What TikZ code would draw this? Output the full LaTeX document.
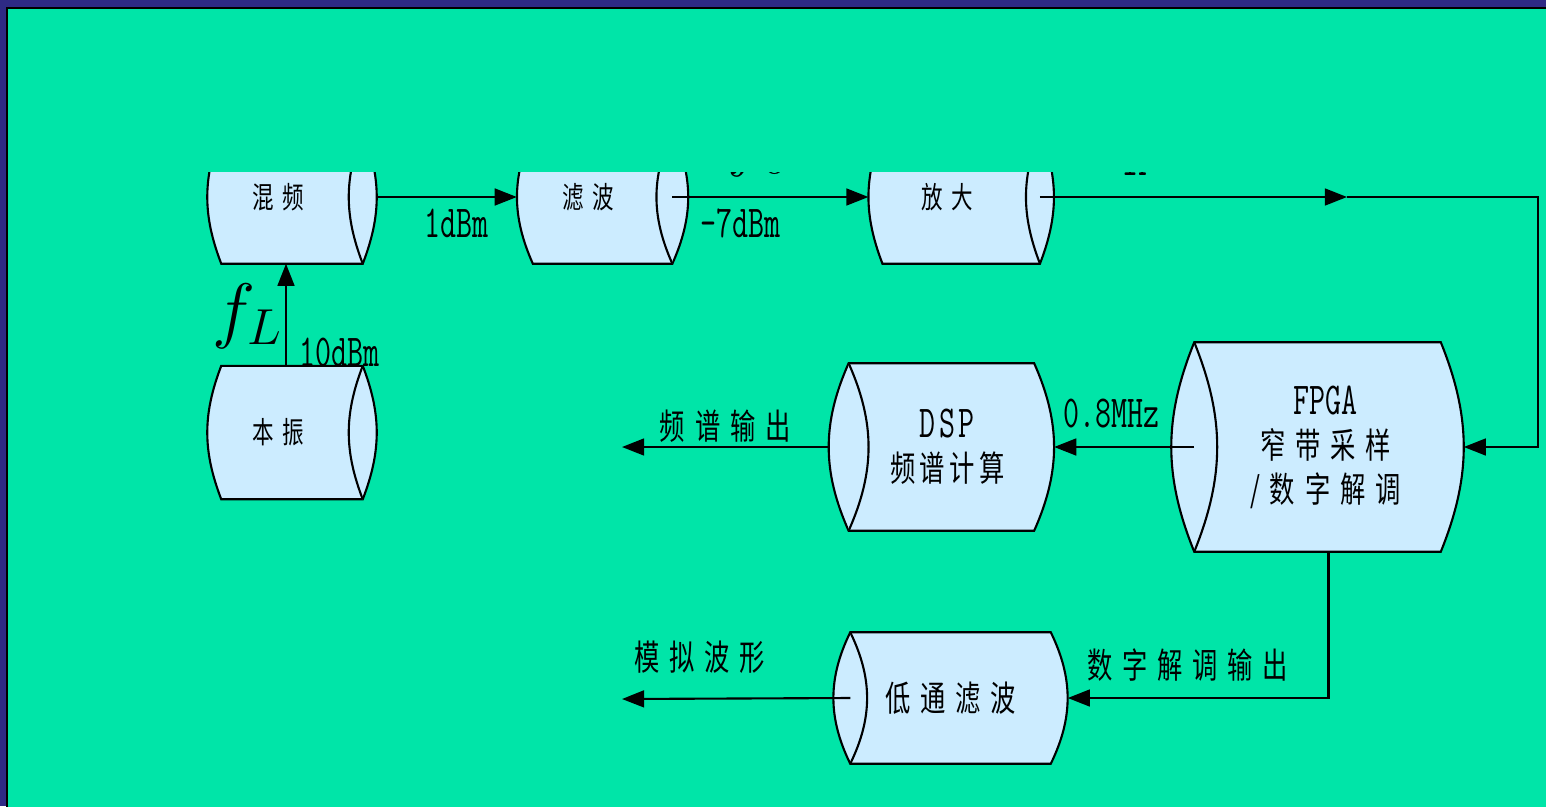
\documentclass[tikz,border=0pt]{standalone}
\usepackage{fontspec}
\setmainfont{Latin Modern Mono}[FakeStretch=0.68]
\newfontfamily\cjk{Noto Sans CJK SC}[FakeStretch=0.72,LetterSpace=28]
\newfontfamily\cjkt{Noto Sans CJK SC}[FakeStretch=0.72,LetterSpace=12]
\usetikzlibrary{arrows.meta,positioning,backgrounds}
\definecolor{framebg}{RGB}{46,42,133}
\definecolor{slidebg}{RGB}{0,229,168}
\definecolor{drumfill}{RGB}{204,236,255}
% outline of a drum; the lens end is on the right
\newcommand{\drumright}[2]{%
  \filldraw[drumline] (#1.north west) -- (#1.north east) to[bend left=#2] (#1.south east)
    -- (#1.south west) to[bend left=#2] (#1.north west) -- cycle;
  \draw[drumline] (#1.north east) to[bend right=#2] (#1.south east);
}
% outline of a drum; the lens end is on the left
\newcommand{\drumleft}[2]{%
  \filldraw[drumline] (#1.north west) -- (#1.north east) to[bend left=#2] (#1.south east)
    -- (#1.south west) to[bend left=#2] (#1.north west) -- cycle;
  \draw[drumline] (#1.north west) to[bend left=#2] (#1.south west);
}
\newcommand{\lat}[1]{{\rmfamily\fontsize{13}{15}\selectfont #1}}
\tikzset{
  drum/.style={
    rectangle,
    inner sep=0pt,
    align=center,
    font=\cjk\fontsize{10}{12.5}\selectfont
  },
  smalldrum/.style={
    drum,
    minimum height=1.32cm,
    font=\cjk\fontsize{8.5}{10}\selectfont,
    execute at end node=\hspace*{2.8mm}
  },
  drumline/.style={
    draw=black,
    fill=drumfill,
    line width=0.6pt
  },
  arrow/.style={
    -{Triangle[length=6.3pt,width=4.8pt]},
    line width=0.6pt,
    draw=black
  },
  tag/.style={
    inner sep=0pt,
    font=\fontsize{13}{15}\selectfont
  },
  cntag/.style={
    inner sep=0pt,
    font=\cjk\fontsize{10}{12}\selectfont
  },
  freq/.style={
    inner sep=0pt,
    font=\fontsize{20}{24}\selectfont
  }
}

\begin{document}
\begin{tikzpicture}[x=0.01cm, y=-0.01cm, node distance=10mm]
  \useasboundingbox (0,0) rectangle (1546,806);
  \begin{scope}[on background layer]
    \fill[framebg] (0,0) rectangle (1546,806);
    \filldraw[fill=slidebg, draw=black, line width=0.6pt] (7,8) rectangle (1552,812);
  \end{scope}

  % receiver front end
  \node[smalldrum, minimum width=1.40cm] (mix) at (292,197) {混频};
  \node[smalldrum, minimum width=1.38cm, right=1.70cm of mix] (filt) {滤波};
  \node[smalldrum, minimum width=1.56cm, right=2.10cm of filt] (amp) {放大};
  \node[smalldrum, minimum width=1.40cm, below=1.02cm of mix] (lo) {本振};

  % digital back end
  \node[drum, minimum width=2.45cm, minimum height=2.08cm] (fpga) at (1317.5,447)
    {\hspace*{1.6mm}\lat{FPGA}\\\hspace*{1.6mm}窄带采样\\\hspace*{1.6mm}/数字解调};
  \node[drum, minimum width=1.84cm, minimum height=1.66cm,
        font=\cjkt\fontsize{10}{12.5}\selectfont, left=1.60cm of fpga] (dsp)
    {\hspace*{1.2mm}\lat{D\kern1pt S\kern1pt P}\\\hspace*{1.2mm}频谱计算};
  \node[drum, minimum width=1.99cm, minimum height=1.30cm] (lpf) at (950.5,698) {低通滤波};

  \begin{scope}[on background layer]
    \foreach \n/\b in {mix/21,filt/24,amp/21,lo/21} {\drumright{\n}{\b}}
    \foreach \n/\b in {dsp/24,fpga/22,lpf/26} {\drumleft{\n}{\b}}
  \end{scope}

  \coordinate (mid) at (1347,197);
  \coordinate (turn) at (1538,197);
  \coordinate (specout) at (622,447);
  \coordinate (waveout) at (622,699);

  \draw[arrow] ([xshift=0.14cm]mix.east) -- node[tag, pos=0.57, below=3pt] {1dBm} ([xshift=-0.16cm]filt.west);
  \draw[arrow] (filt.east) -- node[tag, pos=0.35, below=3pt] {-7dBm}
    node[freq, pos=0.44, above=5.4pt] {$f_0$} ([xshift=-0.14cm]amp.west);
  \draw[arrow] (amp.east) -- node[tag, pos=0.32, above=5.7pt] {IF} (mid);
  \draw[arrow] (mid) -- (turn) |- ([xshift=0.23cm]fpga.east);
  \draw[arrow] ([xshift=-0.06cm]lo.north) --
    node[freq, pos=0.49, left=0.6pt] {$f_L$}
    node[tag, pos=0.13, right=0.12cm] {10dBm} ([xshift=-0.06cm]mix.south);
  \draw[arrow] (fpga.west) -- node[tag, pos=0.59, above=5pt] {0.8MHz} ([xshift=0.20cm]dsp.east);
  \draw[arrow] ([xshift=-0.20cm]dsp.west) -- node[cntag, pos=0.5, above=1pt] {频谱输出} (specout);
  \draw[arrow] ([xshift=0.11cm]fpga.south) |- node[cntag, pos=0.77, above=4.3pt] {数字解调输出} ([xshift=0.17cm]lpf.east);
  \draw[arrow] (lpf.west) -- node[cntag, pos=0.66, above=6.8pt] {模拟波形} (waveout);

  % upper part of the slide hides the top of the first row
  \fill[slidebg] (7.5,8.5) rectangle (1546,172);
\end{tikzpicture}
\end{document}
